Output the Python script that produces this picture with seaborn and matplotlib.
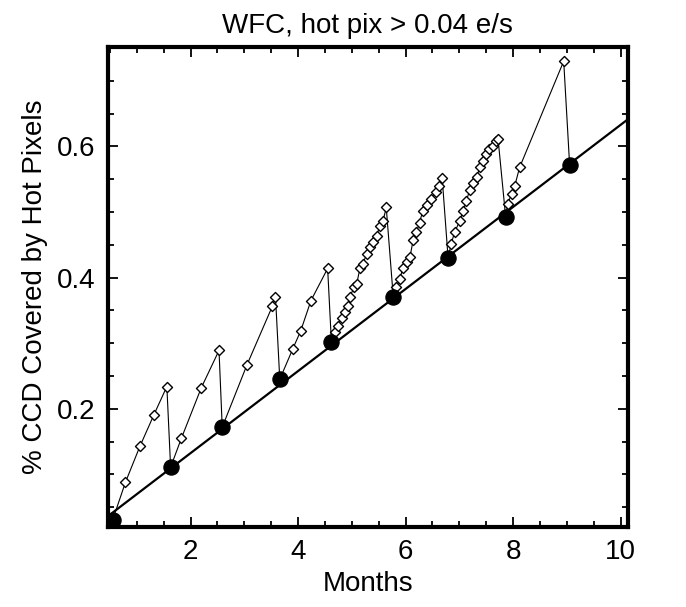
import numpy as np
import pandas as pd
import matplotlib.pyplot as plt
import seaborn as sns
from matplotlib.ticker import MultipleLocator

# black dots: coverage right after each anneal
anneal_month = [0.55, 1.63, 2.59, 3.66, 4.62, 5.77, 6.79, 7.86, 9.05]
anneal_frac = [0.030, 0.111, 0.172, 0.245, 0.302, 0.371, 0.430, 0.493, 0.572]

# open diamonds: hot pixel growth between anneals
c1_month = [0.79, 1.06, 1.32, 1.56]
c1_frac = [0.088, 0.143, 0.191, 0.234]
c2_month = [1.83, 2.20, 2.53]
c2_frac = [0.155, 0.232, 0.289]
c3_month = [3.05, 3.52, 3.58]
c3_frac = [0.267, 0.356, 0.371]
c4_month = [3.90, 4.05, 4.24, 4.55]
c4_frac = [0.291, 0.319, 0.365, 0.414]
c5_month = [4.68, 4.74, 4.81, 4.87, 4.93, 4.96, 5.04, 5.09, 5.15, 5.20,
            5.28, 5.33, 5.39, 5.46, 5.52, 5.58, 5.64]
c5_frac = [0.317, 0.327, 0.338, 0.348, 0.356, 0.370, 0.385, 0.390, 0.414, 0.421,
           0.436, 0.446, 0.454, 0.464, 0.478, 0.486, 0.507]
c6_month = [5.83, 5.89, 5.95, 6.02, 6.08, 6.14, 6.20, 6.26, 6.32, 6.39,
            6.48, 6.57, 6.63, 6.68]
c6_frac = [0.386, 0.398, 0.414, 0.424, 0.431, 0.457, 0.469, 0.484, 0.502, 0.510,
           0.520, 0.530, 0.540, 0.552]
c7_month = [6.85, 6.91, 7.01, 7.07, 7.13, 7.19, 7.25, 7.32, 7.38, 7.44,
            7.50, 7.56, 7.63, 7.69, 7.72]
c7_frac = [0.452, 0.469, 0.487, 0.502, 0.517, 0.533, 0.545, 0.553, 0.568, 0.578,
           0.588, 0.596, 0.601, 0.608, 0.611]
c8_month = [7.90, 7.97, 8.03, 8.12, 8.94]
c8_frac = [0.512, 0.528, 0.540, 0.568, 0.730]

cycles_m = [c1_month, c2_month, c3_month, c4_month, c5_month, c6_month, c7_month, c8_month]
cycles_f = [c1_frac, c2_frac, c3_frac, c4_frac, c5_frac, c6_frac, c7_frac, c8_frac]

# sawtooth path: anneal dot -> growth -> drop to next anneal dot
saw_m, saw_f = [], []
for i in range(8):
    saw_m += [anneal_month[i]] + cycles_m[i]
    saw_f += [anneal_frac[i]] + cycles_f[i]
saw_m.append(anneal_month[-1])
saw_f.append(anneal_frac[-1])
saw = pd.DataFrame({'month': saw_m, 'frac': saw_f})

hot = pd.DataFrame({'month': sum(cycles_m, []), 'frac': sum(cycles_f, [])})
ann = pd.DataFrame({'month': anneal_month, 'frac': anneal_frac})

sns.set_style('ticks')
plt.rcParams['font.family'] = ['Liberation Sans', 'DejaVu Sans']
plt.rcParams['text.color'] = 'black'
plt.rcParams['axes.labelcolor'] = 'black'

fig = plt.figure(figsize=(6.86, 6.07), dpi=100)
ax = fig.add_axes([0.157, 0.132, 0.758, 0.791])
ax.set_xlim(0.46, 10.13)
ax.set_ylim(0.02, 0.752)

sns.regplot(data=ann, x='month', y='frac', scatter=False, ci=None, truncate=False,
            color='black', line_kws={'lw': 1.6}, ax=ax)
sns.lineplot(data=saw, x='month', y='frac', sort=False, estimator=None,
             color='black', lw=0.8, ax=ax)
sns.scatterplot(data=hot, x='month', y='frac', marker='D', s=26, color='white',
                edgecolor='black', linewidth=1.0, zorder=3, ax=ax)
sns.scatterplot(data=ann, x='month', y='frac', s=120, color='black',
                edgecolor='black', zorder=4, ax=ax)

ax.set_xlim(0.46, 10.13)
ax.set_ylim(0.02, 0.752)
ax.xaxis.set_major_locator(MultipleLocator(2))
ax.xaxis.set_minor_locator(MultipleLocator(0.5))
ax.yaxis.set_major_locator(MultipleLocator(0.2))
ax.yaxis.set_minor_locator(MultipleLocator(0.05))
ax.set_xticks([2, 4, 6, 8, 10])
ax.set_yticks([0.2, 0.4, 0.6])
ax.tick_params(which='both', direction='in', top=True, right=True, width=1.3,
               labelsize=20, colors='black')
ax.tick_params(which='major', length=7, pad=9)
ax.tick_params(which='minor', length=4)
for s in ax.spines.values():
    s.set_linewidth(3)
    s.set_color('black')

ax.set_xlabel('Months', fontsize=20, labelpad=4, color='black')
ax.set_ylabel('% CCD Covered by Hot Pixels', fontsize=20, labelpad=6, color='black')
ax.set_title('WFC, hot pix > 0.04 e/s', fontsize=20, pad=10, color='black')

fig.savefig('out.png', dpi=100)
